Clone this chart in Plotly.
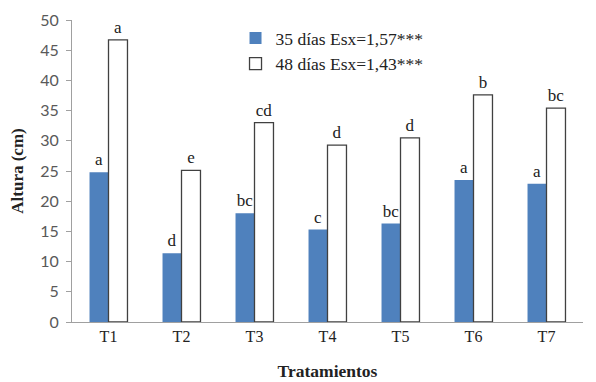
import plotly.graph_objects as go

categories = ["T1", "T2", "T3", "T4", "T5", "T6", "T7"]
d35 = [24.8, 11.4, 18.0, 15.3, 16.3, 23.5, 22.9]
d48 = [46.7, 25.1, 33.0, 29.3, 30.5, 37.6, 35.4]
letters35 = ["a", "d", "bc", "c", "bc", "a", "a"]
letters48 = ["a", "e", "cd", "d", "d", "b", "bc"]
name35 = "35 días Esx=1,57***"
name48 = "48 días Esx=1,43***"
y_ticks = [0, 5, 10, 15, 20, 25, 30, 35, 40, 45, 50]

serif = "Liberation Serif, Times New Roman, serif"

fig = go.Figure()
fig.add_trace(go.Bar(
    x=categories, y=d35, name=name35,
    marker=dict(color="#4F81BD", line=dict(width=0)),
    text=letters35, textposition="outside",
    textfont=dict(family=serif, size=17, color="#222"),
    cliponaxis=False,
))
fig.add_trace(go.Bar(
    x=categories, y=d48, name=name48,
    marker=dict(color="white", line=dict(color="#404040", width=1.3)),
    text=letters48, textposition="outside",
    textfont=dict(family=serif, size=17, color="#222"),
    cliponaxis=False,
))

fig.update_layout(
    width=588, height=374,
    margin=dict(l=64, r=13, t=12, b=60, autoexpand=False),
    paper_bgcolor="white", plot_bgcolor="white",
    barmode="group", bargap=0.48, bargroupgap=0,
    showlegend=True,
    legend=dict(x=0.32, y=1.0, xanchor="left", yanchor="top",
                font=dict(family=serif, size=17.5, color="#222"),
                bgcolor="rgba(0,0,0,0)", tracegroupgap=2),
    xaxis=dict(
        automargin=False,
        showline=True, linecolor="#A0A0A0", linewidth=1.2,
        ticks="", tickfont=dict(family=serif, size=16, color="#222"),
        title=dict(text="<b>Tratamientos</b>", font=dict(family=serif, size=17.5, color="#222"), standoff=20),
    ),
    yaxis=dict(
        automargin=False,
        range=[0, 50], tickvals=y_ticks, showgrid=False, zeroline=False,
        showline=True, linecolor="#A0A0A0", linewidth=1.2,
        ticks="outside", ticklen=5, tickcolor="#A0A0A0", ticklabelstandoff=4,
        tickfont=dict(family="Lato, sans-serif", size=16, color="#595959"),
        title=dict(text="<b>Altura (cm)</b>", font=dict(family=serif, size=17, color="#222"), standoff=14),
    ),
)

fig.write_html("out.html")
